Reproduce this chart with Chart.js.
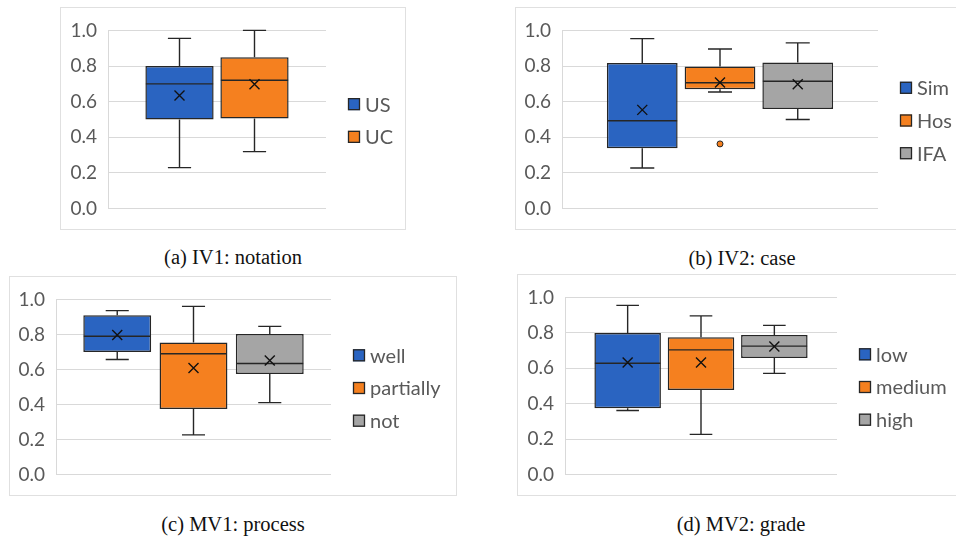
<!DOCTYPE html>
<html>
<head>
<meta charset="utf-8">
<script src="https://cdn.jsdelivr.net/npm/chart.js@4.4.1/dist/chart.umd.min.js"></script>
<style>
  html, body { margin: 0; padding: 0; background: #ffffff; }
  body { width: 956px; height: 539px; position: relative; overflow: hidden; }
  .frame { position: absolute; box-sizing: border-box; border: 1.5px solid #e0e0e0; background: #fff; }
  .frame canvas { position: absolute; left: 0; top: 0; }
  .cap { position: absolute; font-family: "Liberation Serif", "Times New Roman", serif; font-size: 20.5px; color: #111; white-space: nowrap; transform: translate(-50%, -50%); }
</style>
</head>
<body>
<div id="root"></div>
<script>
// ---------- DATA ----------
const aCategories = ['US', 'UC'];
const aMin    = [0.23, 0.32];
const aQ1     = [0.50, 0.505];
const aMedian = [0.70, 0.72];
const aQ3     = [0.80, 0.85];
const aMax    = [0.955, 1.0];
const aMean   = [0.635, 0.698];
const aOutliers = [[], []];

const bCategories = ['Sim', 'Hos', 'IFA'];
const bMin    = [0.228, 0.654, 0.50];
const bQ1     = [0.339, 0.67, 0.559];
const bMedian = [0.493, 0.706, 0.715];
const bQ3     = [0.817, 0.798, 0.82];
const bMax    = [0.954, 0.896, 0.93];
const bMean   = [0.554, 0.707, 0.698];
const bOutliers = [[], [0.363], []];

const cCategories = ['well', 'partially', 'not'];
const cMin    = [0.657, 0.227, 0.411];
const cQ1     = [0.70, 0.375, 0.574];
const cMedian = [0.79, 0.69, 0.634];
const cQ3     = [0.91, 0.754, 0.803];
const cMax    = [0.936, 0.96, 0.846];
const cMean   = [0.797, 0.608, 0.651];
const cOutliers = [[], [], []];

const dCategories = ['low', 'medium', 'high'];
const dMin    = [0.362, 0.227, 0.571];
const dQ1     = [0.375, 0.478, 0.658];
const dMedian = [0.628, 0.704, 0.725];
const dQ3     = [0.799, 0.775, 0.788];
const dMax    = [0.955, 0.896, 0.842];
const dMean   = [0.632, 0.632, 0.723];
const dOutliers = [[], [], []];

const yTicks = [0.0, 0.2, 0.4, 0.6, 0.8, 1.0];
const captions = ['(a) IV1: notation', '(b) IV2: case', '(c) MV1: process', '(d) MV2: grade'];

// ---------- STYLE / LAYOUT ----------
const COLORS = ['#2a64c1', '#f5801f', '#a5a5a5'];
const EDGE = '#262626';
const TICKFONT = 'Lato, "Open Sans", sans-serif';

const panels = [
  { cats: aCategories, min: aMin, q1: aQ1, med: aMedian, q3: aQ3, max: aMax, mean: aMean, out: aOutliers,
    frame: {x: 60, y: 7, w: 346, h: 223}, plot: {l: 107, r: 325, t: 29, b: 209}, catPct: 0.688, barPct: 0.91,
    cap: {x: 233, y: 257} },
  { cats: bCategories, min: bMin, q1: bQ1, med: bMedian, q3: bQ3, max: bMax, mean: bMean, out: bOutliers,
    frame: {x: 515, y: 7, w: 445, h: 223}, plot: {l: 561, r: 877, t: 29, b: 209}, catPct: 0.738, barPct: 0.91,
    cap: {x: 742, y: 258} },
  { cats: cCategories, min: cMin, q1: cQ1, med: cMedian, q3: cQ3, max: cMax, mean: cMean, out: cOutliers,
    frame: {x: 9, y: 276, w: 448, h: 220}, plot: {l: 55, r: 330, t: 297, b: 475}, catPct: 0.832, barPct: 0.89,
    cap: {x: 233, y: 524} },
  { cats: dCategories, min: dMin, q1: dQ1, med: dMedian, q3: dQ3, max: dMax, mean: dMean, out: dOutliers,
    frame: {x: 517, y: 274, w: 445, h: 222}, plot: {l: 564, r: 836, t: 296, b: 475}, catPct: 0.809, barPct: 0.907,
    cap: {x: 741, y: 524} }
];

const boxPlugin = {
  id: 'boxExtras',
  afterDatasetsDraw(chart) {
    const p = chart.options.plugins.boxExtras;
    const ys = chart.scales.y;
    const ctx = chart.ctx;
    ctx.save();
    ctx.strokeStyle = EDGE;
    ctx.lineWidth = 1.4;
    chart.data.datasets.forEach((ds, i) => {
      const bar = chart.getDatasetMeta(i).data[0];
      const x = bar.x, w = bar.width;
      const half = w / 2 - 0.5, cap = w * 0.17;
      const Y = v => ys.getPixelForValue(v);
      ctx.beginPath();
      ctx.moveTo(x, Y(p.q3[i])); ctx.lineTo(x, Y(p.max[i]));
      ctx.moveTo(x - cap, Y(p.max[i])); ctx.lineTo(x + cap, Y(p.max[i]));
      ctx.moveTo(x, Y(p.q1[i])); ctx.lineTo(x, Y(p.min[i]));
      ctx.moveTo(x - cap, Y(p.min[i])); ctx.lineTo(x + cap, Y(p.min[i]));
      ctx.moveTo(x - half, Y(p.med[i])); ctx.lineTo(x + half, Y(p.med[i]));
      ctx.stroke();
      const my = Y(p.mean[i]), s = 5;
      ctx.beginPath();
      ctx.lineWidth = 1.4;
      ctx.strokeStyle = '#111';
      ctx.moveTo(x - s, my - s); ctx.lineTo(x + s, my + s);
      ctx.moveTo(x - s, my + s); ctx.lineTo(x + s, my - s);
      ctx.stroke();
      ctx.strokeStyle = EDGE;
      p.out[i].forEach(v => {
        ctx.beginPath();
        ctx.arc(x, Y(v), 3, 0, Math.PI * 2);
        ctx.fillStyle = COLORS[i];
        ctx.fill();
        ctx.lineWidth = 1;
        ctx.stroke();
      });
      ctx.lineWidth = 1.4;
    });
    // legend
    const ca = chart.chartArea;
    const n = chart.data.datasets.length;
    const spacing = 32.7;
    const cy = (ca.top + ca.bottom) / 2 + 1;
    const lx = ca.right + 22;
    ctx.font = '20px ' + TICKFONT;
    ctx.textBaseline = 'middle';
    ctx.textAlign = 'left';
    chart.data.datasets.forEach((ds, i) => {
      const iy = cy + (i - (n - 1) / 2) * spacing;
      ctx.fillStyle = COLORS[i];
      ctx.fillRect(lx, iy - 6, 12, 12);
      ctx.lineWidth = 1.3;
      ctx.strokeStyle = EDGE;
      ctx.strokeRect(lx + 0.5, iy - 5.5, 11, 11);
      ctx.fillStyle = '#595959';
      ctx.fillText(ds.label, lx + 17, iy + 1);
    });
    ctx.restore();
  }
};

const root = document.getElementById('root');
panels.forEach((P, k) => {
  const f = document.createElement('div');
  f.className = 'frame';
  f.style.left = P.frame.x + 'px';
  f.style.top = P.frame.y + 'px';
  f.style.width = P.frame.w + 'px';
  f.style.height = P.frame.h + 'px';
  const cv = document.createElement('canvas');
  cv.width = P.frame.w; cv.height = P.frame.h;
  cv.style.width = P.frame.w + 'px'; cv.style.height = P.frame.h + 'px';
  f.appendChild(cv);
  root.appendChild(f);

  const cap = document.createElement('div');
  cap.className = 'cap';
  cap.textContent = captions[k];
  cap.style.left = P.cap.x + 'px';
  cap.style.top = P.cap.y + 'px';
  root.appendChild(cap);

  const yAxisW = P.plot.l - P.frame.x;
  new Chart(cv, {
    type: 'bar',
    data: {
      labels: [''],
      datasets: P.cats.map((c, i) => ({
        label: c,
        data: [[P.q1[i], P.q3[i]]],
        backgroundColor: COLORS[i],
        borderColor: EDGE,
        borderWidth: 1.5,
        borderSkipped: false,
        categoryPercentage: P.catPct,
        barPercentage: P.barPct
      }))
    },
    options: {
      responsive: false,
      animation: false,
      devicePixelRatio: 1,
      layout: { padding: { left: 0, right: (P.frame.x + P.frame.w) - P.plot.r, top: P.plot.t - P.frame.y, bottom: (P.frame.y + P.frame.h) - P.plot.b } },
      plugins: {
        legend: { display: false },
        tooltip: { enabled: false },
        boxExtras: { min: P.min, q1: P.q1, med: P.med, q3: P.q3, max: P.max, mean: P.mean, out: P.out }
      },
      scales: {
        x: { display: false },
        y: {
          min: 0, max: 1,
          afterFit: s => { s.width = yAxisW; },
          afterBuildTicks: s => { s.ticks = yTicks.map(v => ({ value: v })); },
          ticks: {
            padding: 11,
            color: '#595959',
            font: { family: TICKFONT, size: 19 },
            callback: v => Number(v).toFixed(1)
          },
          grid: { color: '#d9d9d9', lineWidth: 1, drawTicks: false },
          border: { display: true, color: '#d9d9d9' }
        }
      }
    },
    plugins: [boxPlugin]
  });
});
</script>
</body>
</html>
